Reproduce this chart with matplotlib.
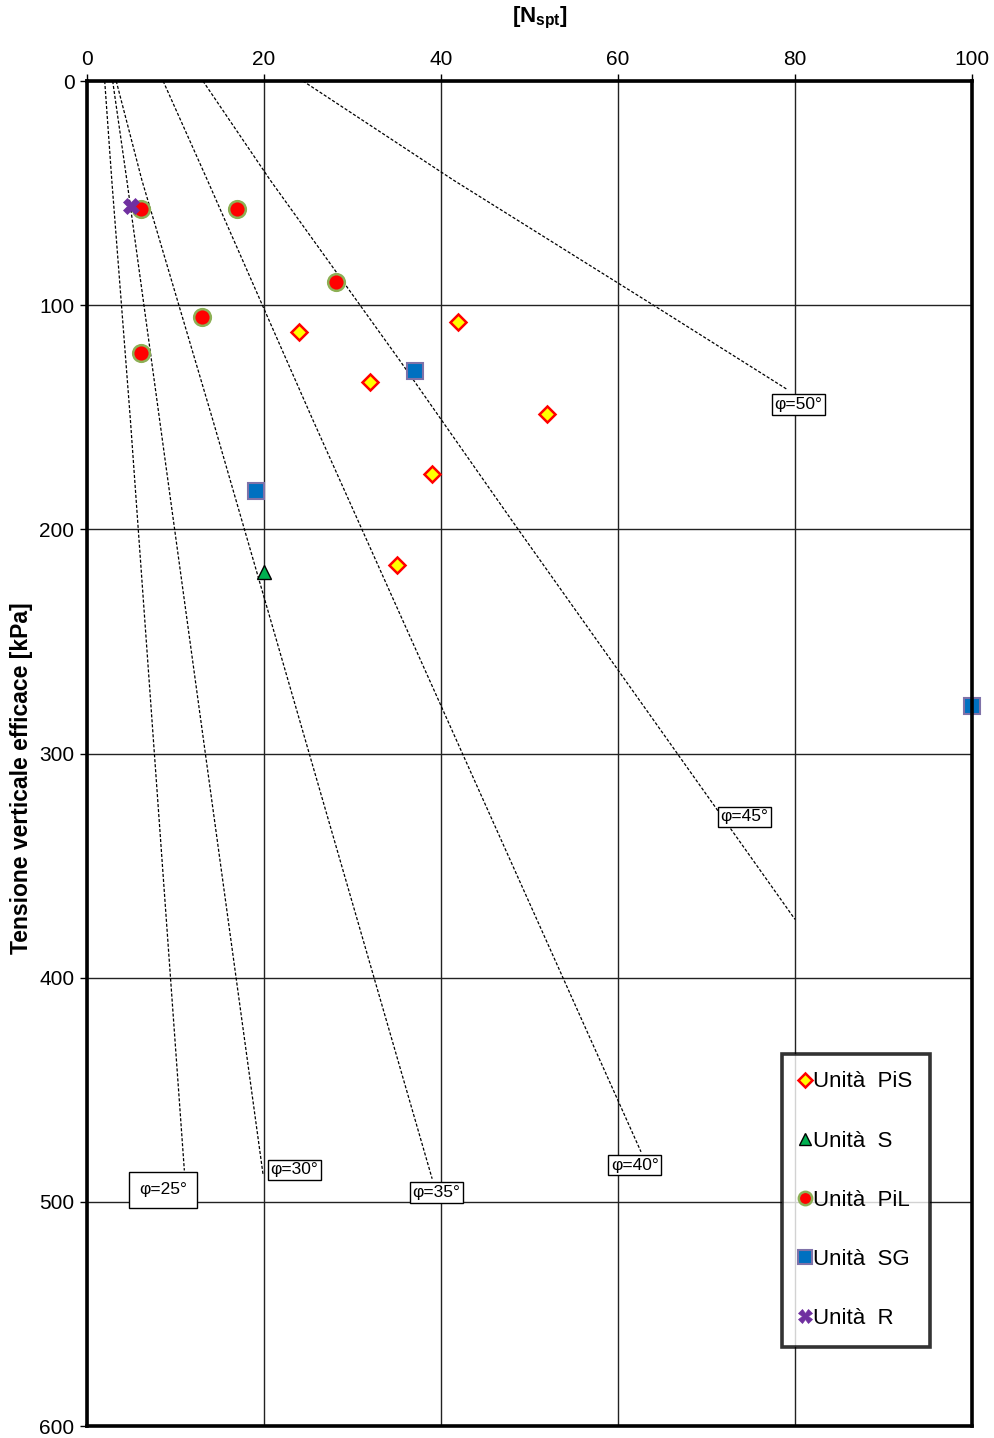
import matplotlib
matplotlib.use("Agg")
import matplotlib.pyplot as plt

plt.rcParams['font.family'] = ['Liberation Sans', 'DejaVu Sans']
plt.rcParams['mathtext.fontset'] = 'custom'
plt.rcParams['mathtext.rm'] = 'Liberation Sans'
plt.rcParams['mathtext.bf'] = 'Liberation Sans:bold'

# punti misurati (Nspt, tensione verticale efficace kPa)
pis_n = [24.0, 41.9, 32.0, 52.0, 39.0, 35.0]
pis_s = [112.0, 107.6, 134.4, 148.6, 175.4, 216.0]
s_n = [20.0]
s_s = [219.0]
pil_n = [6.1, 17.0, 28.1, 13.0, 6.1]
pil_s = [57.1, 57.1, 89.8, 105.1, 121.2]
sg_n = [37.1, 19.1, 100.0]
sg_s = [129.2, 182.9, 278.8]
r_n = [5.0]
r_s = [55.8]

# curve di correlazione phi
phi_labels = ["25", "30", "35", "40", "45", "50"]
phi_n = [
    [2.0, 2.8, 4.9, 11.0],
    [2.9, 4.5, 8.2, 19.9],
    [3.3, 6.2, 14.2, 39.0],
    [8.6, 13.6, 25.5, 62.6],
    [13.1, 20.7, 35.4, 48.0, 80.0],
    [24.4, 41.4, 64.0, 79.2],
]
phi_s = [
    [0, 44.2, 151, 486],
    [0, 44.2, 151, 488],
    [0, 44.2, 151, 489.7],
    [0, 44.2, 151, 477.7],
    [0, 44.2, 125, 196, 374],
    [0, 44.2, 100, 137.8],
]
lab_n = [8.6, 23.4, 39.5, 61.9, 74.3, 80.4]
lab_s = [494.6, 485.7, 495.8, 483.7, 328.3, 144.3]

fig = plt.figure(figsize=(9.94, 14.38), dpi=100)
ax = fig.add_axes([87/994, 12/1438, 885/994, 1345/1438])

for i in range(len(phi_labels)):
    ax.plot(phi_n[i], phi_s[i], color='black', lw=0.9, ls=(0, (2.5, 1.5)), zorder=2)
    pad = 0.6 if i == 0 else 0.15
    ax.text(lab_n[i], lab_s[i], "\u03c6=" + phi_labels[i] + "°", fontsize=12.5,
            ha='center', va='center', zorder=3,
            bbox=dict(boxstyle='square,pad=%s' % pad, fc='white', ec='black', lw=1))

ax.plot(pis_n, pis_s, ls='none', marker='D', ms=8.5, mfc='#FFFF00', mec='#FF0000',
        mew=1.8, label='Unità  PiS', zorder=4)
ax.plot(s_n, s_s, ls='none', marker='^', ms=10, mfc='#00B050', mec='black',
        mew=1, label='Unità  S', zorder=4)
ax.plot(pil_n, pil_s, ls='none', marker='o', ms=12, mfc='#FF0000', mec='#8DB055',
        mew=1.8, label='Unità  PiL', zorder=4)
ax.plot(sg_n, sg_s, ls='none', marker='s', ms=12, mfc='#0070C0', mec='#7F72A8',
        mew=1.5, label='Unità  SG', zorder=4, clip_on=False)
ax.plot(r_n, r_s, ls='none', marker='X', ms=12, mfc='#7030A0', mec='#7030A0',
        mew=0.5, label='Unità  R', zorder=5)

ax.set_xlim(0, 100)
ax.set_ylim(600, 0)
ax.set_xticks(range(0, 101, 20))
ax.set_yticks(range(0, 601, 100))
ax.xaxis.tick_top()
ax.tick_params(axis='both', direction='out', length=5, width=1, labelsize=15, pad=4)
ax.grid(True, color='#222222', lw=1)
ax.set_axisbelow(True)
for sp in ax.spines.values():
    sp.set_linewidth(2.6)
    sp.set_zorder(6)

leg = ax.legend(loc='lower right', bbox_to_anchor=(0.9525, 0.0587), borderaxespad=0,
                fontsize=16, frameon=True, fancybox=False, labelspacing=1.72,
                handlelength=0.5, handletextpad=0.1, borderpad=0.8, markerscale=0.8)
leg.get_frame().set_edgecolor('black')
leg.get_frame().set_linewidth(2.6)

fig.text(540/994, 1 - 18/1438, r'$\mathbf{[N_{spt}]}$', fontsize=16,
         ha='center', va='center')
fig.text(22/994, 1 - 778/1438, 'Tensione verticale efficace [kPa]', fontsize=16.5,
         fontweight='bold', rotation=90, ha='center', va='center')

fig.savefig('out.png', dpi=100)
